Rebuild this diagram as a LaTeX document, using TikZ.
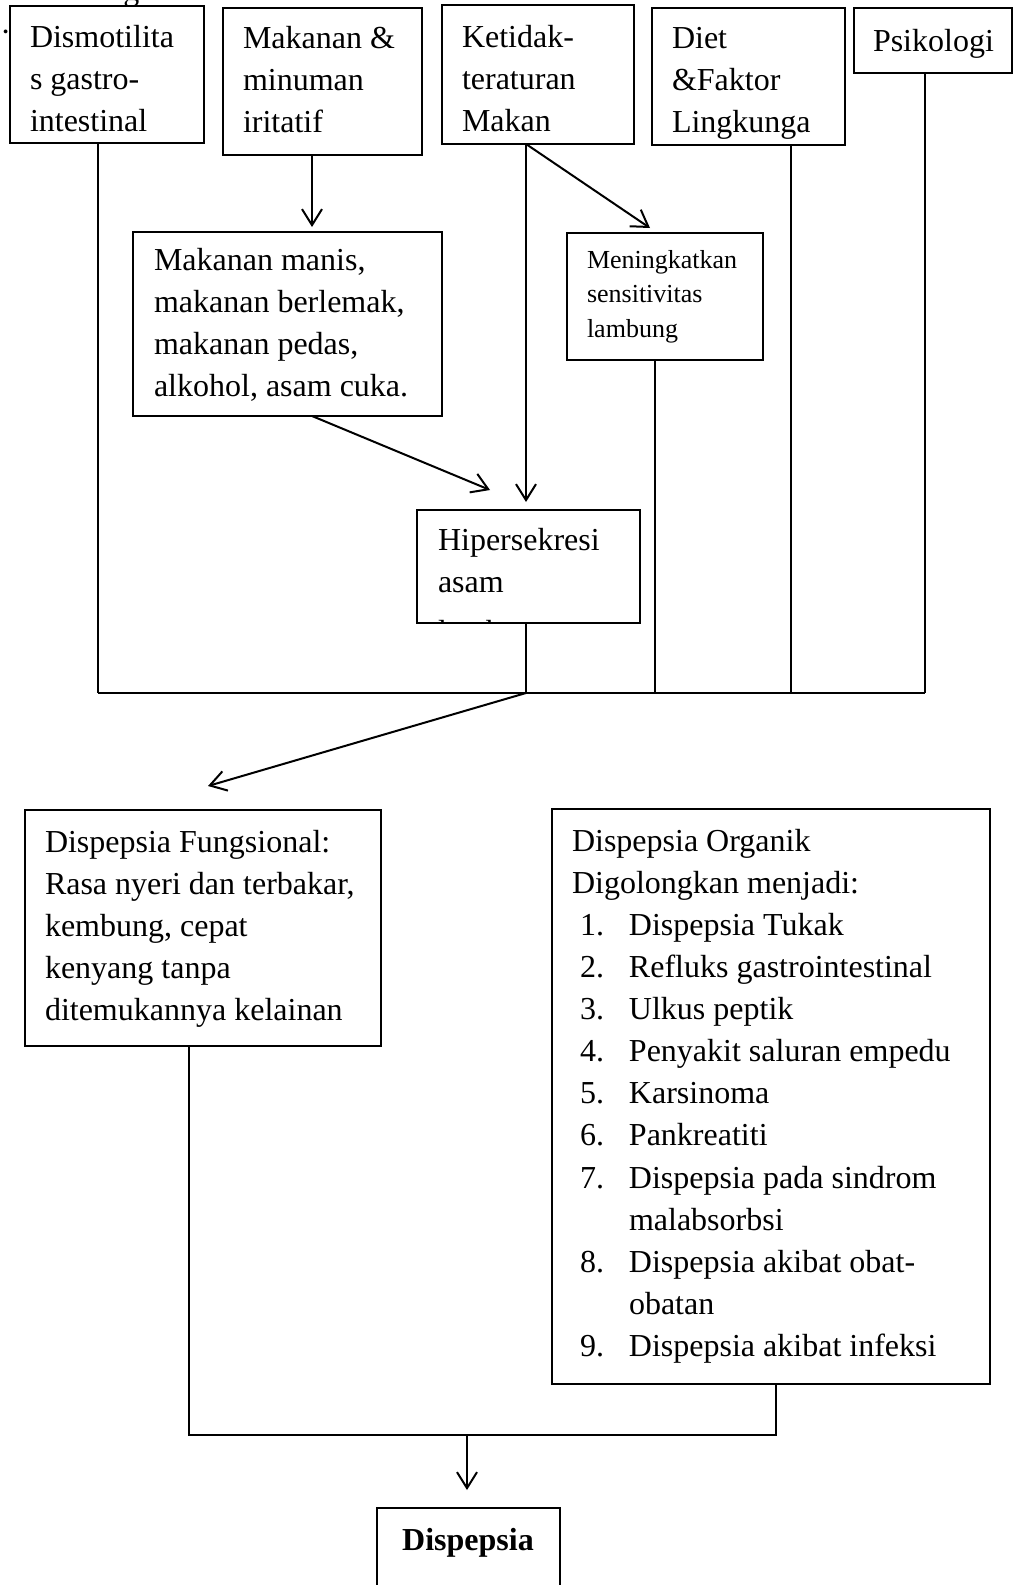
\documentclass[tikz,border=0pt]{standalone}
\usepackage{fontspec}
\setmainfont{Liberation Serif}
\usetikzlibrary{arrows.meta}
\newcommand\mybox[5]{\node[box, minimum width={(#4-#2)*0.75pt}, minimum height={(#5-#3)*0.75pt}] (#1) at (#2,#3) {};}
\newcommand\itm[2]{\makebox[24pt][r]{#1}\hspace*{18.75pt}#2}
\newcommand\cont[1]{\hspace*{42.75pt}#1}
\newcommand\tsp{\spaceskip=0.25em plus 0.05em\relax\xspaceskip=0.25em\relax}
\newcommand\bigtxtfont{\fontsize{24pt}{31.6pt}\selectfont}
\newcommand\smalltxtfont{\fontsize{19.5pt}{26.2pt}\selectfont}
\begin{document}
\begin{tikzpicture}[x=0.75pt,y=-0.75pt,
  box/.style={draw, line width=0.9pt, rectangle, inner sep=0pt, outer sep=0pt, anchor=north west},
  txt/.style={inner sep=0pt, outer sep=0pt, anchor=base west, text width=400pt, font=\bigtxtfont},
  small/.style={txt, font=\smalltxtfont},
  conn/.style={line width=1.5pt},
  arr/.style={conn, -{Straight Barb[length=12pt,width=15pt]}}
]
\useasboundingbox (0,0) rectangle (1013,1585);

% boxes
\mybox{dismo}{10}{6}{204}{143}
\mybox{makan}{223}{8}{422}{155}
\mybox{ketidak}{442}{5}{634}{144}
\mybox{diet}{652}{8}{845}{145}
\mybox{psiko}{854}{8}{1012}{73}
\mybox{manis}{133}{232}{442}{416}
\mybox{mening}{567}{233}{763}{360}
\mybox{hiper}{417}{510}{640}{623}
\mybox{fungs}{25}{810}{381}{1046}
\mybox{organ}{552}{809}{990}{1384}
\mybox{disp}{377}{1508}{560}{1600}

% texts
\node[inner sep=0pt, anchor=base west, font=\bigtxtfont] (gfrag) at (123,0) {g};
\node[inner sep=0pt, anchor=base west, font=\bigtxtfont] (dot) at (0,42) {·};
\node[txt] (dismoT) at (30,47) {\tsp Dismotilita\\s gastro-\\intestinal};
\node[txt] (makanT) at (243,48) {\tsp Makanan \&\\minuman\\iritatif};
\node[txt] (ketT) at (462,47) {\tsp Ketidak-\\teraturan\\Makan};
\node[txt] (dietT) at (672,48) {\tsp Diet\\\&Faktor\\Lingkunga};
\node[txt] (psikoT) at (873,51) {\tsp Psikologi};
\node[txt] (manisT) at (154,270) {\tsp Makanan manis,\\makanan berlemak,\\makanan pedas,\\alkohol, asam cuka.};
\node[small] (menT) at (587,268) {\tsp Meningkatkan\\sensitivitas\\lambung};
\begin{scope}
  \clip (hiper.north west) rectangle (hiper.south east);
  \node[txt] (hiperT) at (438,550) {\tsp Hipersekresi\\asam\\[6pt]lambung};
\end{scope}
\node[txt] (fungT) at (45,852) {\tsp Dispepsia Fungsional:\\Rasa nyeri dan terbakar,\\kembung, cepat\\kenyang tanpa\\ditemukannya kelainan};
\node[txt] (orgT) at (572,851) {\tsp Dispepsia Organik\\Digolongkan menjadi:\\\itm{1.}{Dispepsia Tukak}\\\itm{2.}{Refluks gastrointestinal}\\\itm{3.}{Ulkus peptik}\\\itm{4.}{Penyakit saluran empedu}\\\itm{5.}{Karsinoma}\\\itm{6.}{Pankreatiti}\\\itm{7.}{Dispepsia pada sindrom}\\\cont{malabsorbsi}\\\itm{8.}{Dispepsia akibat obat-}\\\cont{obatan}\\\itm{9.}{Dispepsia akibat infeksi}};
\node[inner sep=0pt, anchor=base, font=\bigtxtfont\bfseries] (dispT) at (468,1550) {Dispepsia};

% coordinates
\coordinate (bL) at (98,693);
\coordinate (bH) at (526,693);
\coordinate (bM) at (655,693);
\coordinate (bD) at (791,693);
\coordinate (bR) at (925,693);
\coordinate (fTip) at (208,786);
\coordinate (kTip) at (526,502);
\coordinate (mTip) at (650,228);
\coordinate (mkTip) at (312,227);
\coordinate (hTip) at (490,490);
\coordinate (jL) at (189,1435);
\coordinate (jR) at (776,1435);
\coordinate (jM) at (467,1435);
\coordinate (dTip) at (467,1490);

% upper connectors
\draw[arr] (makan.south -| mkTip) -- (mkTip);
\draw[arr] (ketidak.south -| kTip) -- (kTip);
\draw[arr] (ketidak.south -| kTip) -- (mTip);
\draw[arr] (manis.south -| mkTip) -- (hTip);

% bus
\draw[conn] (dismo.south -| bL) -- (bL);
\draw[conn] (hiper.south -| bH) -- (bH);
\draw[conn] (mening.south -| bM) -- (bM);
\draw[conn] (diet.south -| bD) -- (bD);
\draw[conn] (psiko.south -| bR) -- (bR);
\draw[conn] (bL) -- (bR);
\draw[arr] (bH) -- (fTip);

% lower
\draw[conn] (fungs.south -| jL) -- (jL) -- (jR) -- (organ.south -| jR);
\draw[arr] (jM) -- (dTip);
\end{tikzpicture}
\end{document}
